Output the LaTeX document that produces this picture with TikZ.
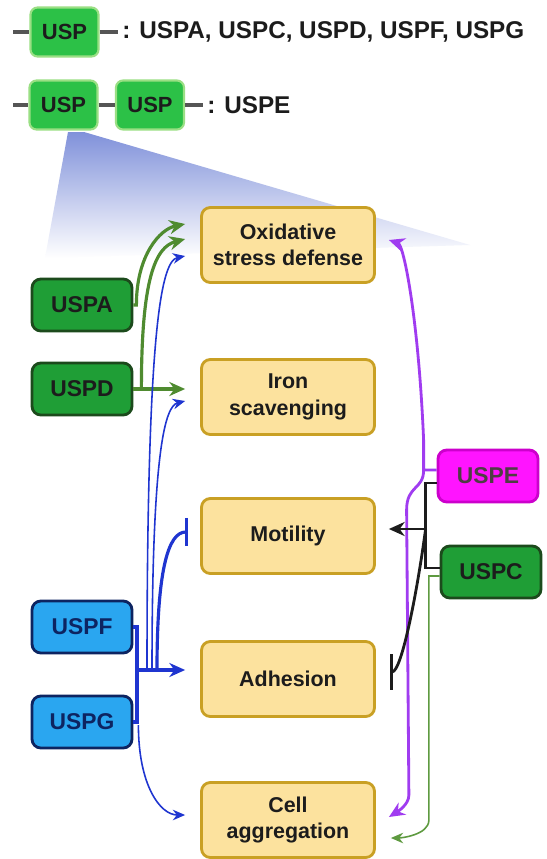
\documentclass[tikz,border=0pt]{standalone}
\usepackage{fontspec}
\setmainfont{Liberation Sans}
\usetikzlibrary{arrows.meta,positioning,calc}
\definecolor{darktext}{HTML}{1C1C1C}
\definecolor{boxfill}{HTML}{FCE29E}
\definecolor{boxline}{HTML}{C9A024}
\definecolor{genegreen}{HTML}{1F9E36}
\definecolor{geneline}{HTML}{1C4A1C}
\definecolor{leggreen}{HTML}{2CC147}
\definecolor{legglow}{HTML}{9ADF84}
\definecolor{geneblue}{HTML}{2AA6F0}
\definecolor{blueline}{HTML}{0D2461}
\definecolor{genemag}{HTML}{FF14FF}
\definecolor{magline}{HTML}{CC00CC}
\definecolor{arrowgreen}{HTML}{4F8B30}
\definecolor{thingreen}{HTML}{5E9A40}
\definecolor{arrowblue}{HTML}{1F35D0}
\definecolor{arrowpurple}{HTML}{A03CF0}
\definecolor{legline}{HTML}{555555}
\definecolor{wedgeblue}{HTML}{8091DA}

\tikzset{
  effect/.style={draw=boxline, line width=1.6pt, fill=boxfill, rounded corners=5pt,
    minimum width=3.46cm, minimum height=1.5cm, align=center, text=darktext,
    font=\fontsize{12.2}{15}\selectfont\bfseries},
  gene/.style={line width=1.6pt, rounded corners=5pt, minimum width=2cm,
    minimum height=1.04cm, font=\fontsize{13}{15}\selectfont\bfseries},
  greengene/.style={gene, draw=geneline, fill=genegreen, text=darktext},
  bluegene/.style={gene, draw=blueline, fill=geneblue, text=blueline},
  maggene/.style={gene, draw=magline, fill=genemag, text=black!80!magenta},
  legbox/.style={draw=legglow, line width=1.2pt, fill=leggreen, rounded corners=4pt,
    minimum width=1.36cm, minimum height=0.98cm, text=darktext,
    font=\fontsize{12.5}{14}\selectfont\bfseries},
  legtext/.style={inner sep=0pt, anchor=west, text=darktext,
    font=\fontsize{13.8}{16}\selectfont\bfseries},
  legwire/.style={draw=legline, line width=2.8pt},
  grarrow/.style={draw=arrowgreen, line width=1.8pt, -{Stealth[length=9pt,width=8pt]}},
  bluethick/.style={draw=arrowblue, line width=1.8pt},
  bluethin/.style={draw=arrowblue, line width=0.9pt, -{Stealth[length=7pt,width=6pt]}},
  purplearrow/.style={draw=arrowpurple, line width=1.6pt, -{Stealth[length=9pt,width=8pt]}},
  blackline/.style={draw=darktext, line width=1.6pt},
  greenthin/.style={draw=thingreen, line width=0.9pt, -{Stealth[length=7pt,width=6pt]}}
}

\begin{document}
\begin{tikzpicture}[x=0.02cm, y=-0.02cm]
\useasboundingbox (0,0) rectangle (547,859);
\fill[white] (0,0) rectangle (547,859);

% legend
\node[legbox] (lega) at (64.5,32) {USP};
\coordinate (l1s) at (13,32);
\coordinate (l1e) at (118,32);
\draw[legwire] (l1s) -- (lega.west);
\draw[legwire] (lega.east) -- (l1e);
\node[legtext] (leg1) at (122,32) {: USPA, USPC, USPD, USPF, USPG};

\node[legbox] (legb) at (63.5,105) {USP};
\node[legbox] (legc) at (150,105) {USP};
\coordinate (l2s) at (13,105);
\coordinate (l2e) at (203,105);
\draw[legwire] (l2s) -- (legb.west);
\draw[legwire] (legb.east) -- (legc.west);
\draw[legwire] (legc.east) -- (l2e);
\node[legtext] (leg2) at (207,105) {: USPE};

\shade[top color=wedgeblue, bottom color=white] (68,132) -- (84,132) -- (470,245) -- (45,258) -- cycle;

% phenotypes
\node[effect] (ox) at (288,245) {Oxidative\\stress defense};
\node[effect] (iron) at (288,397) {Iron\\scavenging};
\node[effect] (mot) at (288,536) {Motility};
\node[effect] (adh) at (288,679) {Adhesion};
\node[effect] (cell) at (288,820) {Cell\\aggregation};

% usp genes
\node[greengene] (uspa) at (82,305) {USPA};
\node[greengene] (uspd) at (82,389) {USPD};
\node[bluegene] (uspf) at (82,627) {USPF};
\node[bluegene] (uspg) at (82,722) {USPG};
\node[maggene] (uspe) at (488,476) {USPE};
\node[greengene] (uspc) at (491,572) {USPC};

% USPA, USPD
\draw[grarrow] (uspa.east) -- ++(3,0) .. controls +(0,-50) and +(-25,5) .. ($(ox.west)+(-15,-21)$);
\draw[grarrow] ($(uspd.east)+(8,0)$) .. controls +(0,-110) and +(-30,8) .. ($(ox.west)+(-15,-6)$);
\draw[grarrow] (uspd.east) -- ($(iron.west)+(-15,-8)$);

% USPF, USPG
\coordinate (hub) at (137,670);
\draw[bluethin] ($(hub)+(10,0)$) .. controls +(0,-330) and +(-25,5) .. ($(ox.west)+(-15,11)$);
\draw[bluethin] ($(hub)+(15,0)$) .. controls +(0,-220) and +(-20,5) .. ($(iron.west)+(-15,4)$);
\draw[bluethick] (uspf.east) -| (hub) |- (uspg.east);
\draw[bluethick, -{Stealth[length=9pt,width=8pt]}] (hub) -- ($(adh.west)+(-15,-9)$);
\draw[bluethick, -{Bar[width=16pt]}] ($(hub)+(20,0)$) .. controls +(0,-100) and +(-20,0) .. ($(mot.west)+(-12,-4)$);
\draw[bluethin] ($(uspg.east)+(5,3)$) .. controls +(0,60) and +(-25,0) .. ($(cell.west)+(-15,-5)$);

% USPE
\coordinate (pj) at ($(uspe.west)+(-13,-6)$);
\draw[purplearrow] ($(uspe.west)+(0,-6)$) -- (pj) -- ++(0,-30) .. controls +(-5,-120) and +(15,5) .. ($(ox.east)+(13,-5)$);
\draw[purplearrow] (pj) .. controls +(0,20) and +(0,-25) .. ++(-17,40) -- ($(cell.east)+(33,-25)$) .. controls +(0,10) and +(8,-5) .. ($(cell.east)+(13,-3)$);

% USPE, USPC
\coordinate (kj) at ($(uspe.west)+(-11,53)$);
\draw[blackline] ($(uspe.west)+(0,7)$) -| (kj) |- ($(uspc.west)+(0,-4)$);
\draw[blackline, -{Stealth[length=9pt,width=8pt]}] (kj) -- ($(mot.east)+(13,-7)$);
\draw[blackline, -{Bar[width=20pt]}] (kj) .. controls +(-8,60) and +(12,0) .. ($(adh.east)+(14,-7)$);
\draw[greenthin] ($(uspc.west)+(0,4)$) -| ($(cell.east)+(53,0)$) .. controls +(0,15) and +(10,0) .. ($(cell.east)+(15,18)$);
\end{tikzpicture}
\end{document}
